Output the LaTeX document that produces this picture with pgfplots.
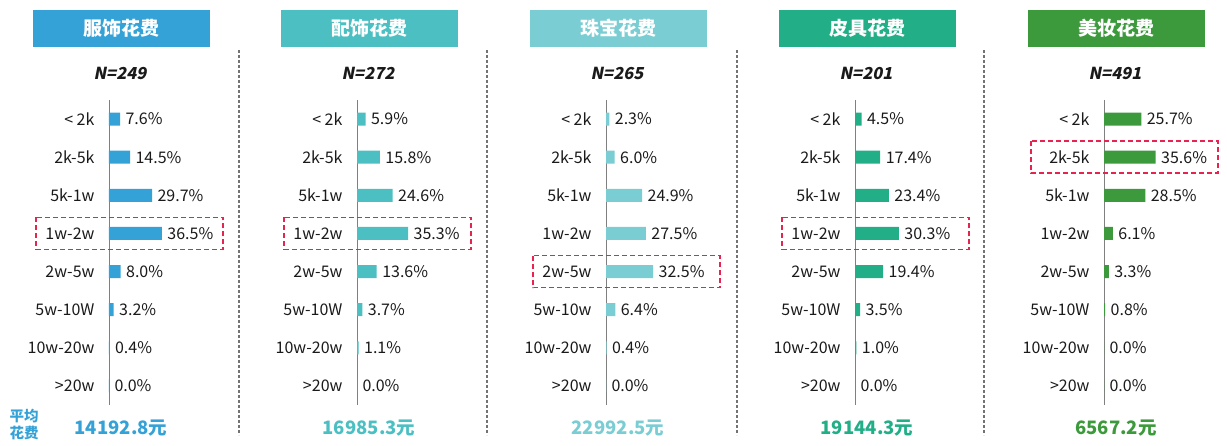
\documentclass[border=0pt]{standalone}
\usepackage{pgfplots}
\pgfplotsset{compat=1.18}
\usepackage{pgfplotstable}
\usepackage{fontspec}
\setmainfont{Noto Sans CJK SC}
\newfontfamily\cjk{Noto Sans CJK SC}
\newfontfamily\cjki[FakeSlant=0.2]{Noto Sans CJK SC}
\definecolor{cA}{HTML}{34A2D6}
\definecolor{cB}{HTML}{4CBFC2}
\definecolor{cC}{HTML}{7ACDD2}
\definecolor{cD}{HTML}{22AE87}
\definecolor{cE}{HTML}{3C9A3C}
\definecolor{hl}{HTML}{E8234F}
\definecolor{txt}{HTML}{1A1A1A}
\pgfplotsset{/pgf/number format/assume math mode=true}

\pgfplotstableread{
x y
7.6 0
14.5 1
29.7 2
36.5 3
8.0 4
3.2 5
0.4 6
0.0 7
}\tA
\pgfplotstableread{
x y
5.9 0
15.8 1
24.6 2
35.3 3
13.6 4
3.7 5
1.1 6
0.0 7
}\tB
\pgfplotstableread{
x y
2.3 0
6.0 1
24.9 2
27.5 3
32.5 4
6.4 5
0.4 6
0.0 7
}\tC
\pgfplotstableread{
x y
4.5 0
17.4 1
23.4 2
30.3 3
19.4 4
3.5 5
1.0 6
0.0 7
}\tD
\pgfplotstableread{
x y
25.7 0
35.6 1
28.5 2
6.1 3
3.3 4
0.8 5
0.0 6
0.0 7
}\tE

% #1 axis x, #2 table, #3 colour, #4 title, #5 N, #6 average, #7 highlighted row, #8 label of row 5
\newcommand{\panel}[8]{%
\fill[#3] (#1pt-76.5pt,399pt) rectangle (#1pt+100.5pt,436pt);
\node[text=white, font=\cjk\bfseries\fontsize{19}{19}\selectfont] at (#1pt+12pt,417.5pt) {#4};
\node[text=txt, font=\cjki\bfseries\fontsize{16.5}{16.5}\selectfont] at (#1pt+11pt,373pt) {N=#5};
\node[text=#3, font=\cjk\bfseries\fontsize{18.5}{18.5}\selectfont] at (#1pt+12pt,18pt) {#6元};
\begin{axis}[
  at={(#1pt,346pt)}, anchor=north west,
  scale only axis, width=87pt, height=305pt,
  xmin=0, xmax=60, ymin=-0.5, ymax=7.5, y dir=reverse,
  axis x line=none, axis y line=left,
  axis line style={-},
  y axis line style={-, draw=black!50, line width=0.9pt},
  ytick={0,...,7}, major tick length=0pt,
  yticklabels={{< 2k},{2k-5k},{5k-1w},{1w-2w},{2w-5w},{#8},{10w-20w},{>20w}},
  yticklabel style={font=\fontsize{16}{16}\selectfont, text=txt, xshift=-11pt},
  xbar, bar width=13pt, bar shift=0pt,
  point meta=x,
  nodes near coords={\pgfmathprintnumber[fixed,fixed zerofill,precision=1]{\pgfplotspointmeta}\%},
  every node near coord/.append style={font=\fontsize{16}{16}\selectfont, text=txt, xshift=2pt},
  clip=false,
]
\addplot[draw=none, fill=#3] table[x=x,y=y]{#2};
\draw[hl, line width=1.8pt, dash pattern=on 5pt off 3pt] (axis cs:-50.3,#7-0.42) rectangle (axis cs:78.6,#7+0.42);
\end{axis}
}

\begin{document}
\begin{tikzpicture}[x=1pt,y=1pt]
\useasboundingbox (0,0) rectangle (1227,446);
\foreach \sx in {239,487,737,984}{
  \draw[black!55, line width=1.3pt, dash pattern=on 3pt off 2pt] (\sx,396) -- (\sx,11);
}
\node[text=cA, font=\cjk\bfseries\fontsize{14.5}{17}\selectfont, align=center] at (24,21) {平均\\花费};
\panel{109}{\tA}{cA}{服饰花费}{249}{14192.8}{3}{5w-10W}
\panel{357}{\tB}{cB}{配饰花费}{272}{16985.3}{3}{5w-10W}
\panel{606}{\tC}{cC}{珠宝花费}{265}{22992.5}{4}{5w-10w}
\panel{855}{\tD}{cD}{皮具花费}{201}{19144.3}{3}{5w-10W}
\panel{1104}{\tE}{cE}{美妆花费}{491}{6567.2}{1}{5w-10W}
\end{tikzpicture}
\end{document}
